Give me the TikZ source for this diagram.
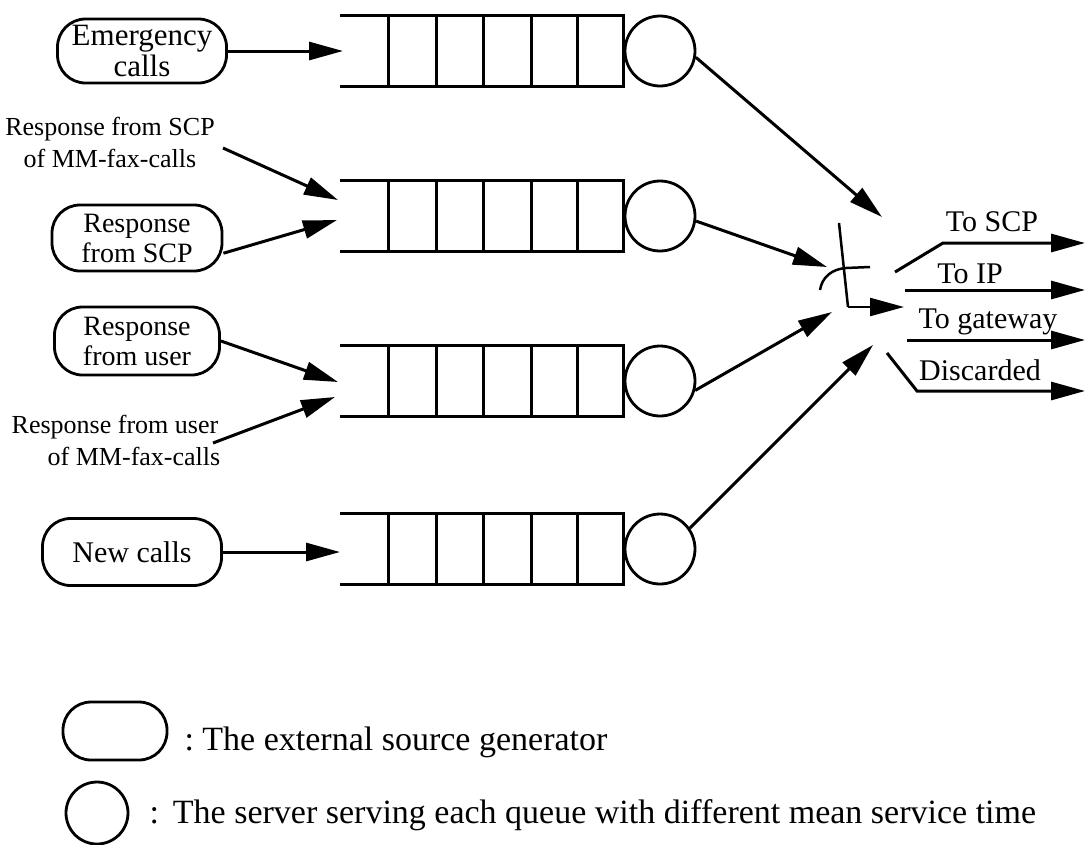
\documentclass[tikz,border=0pt]{standalone}
\usepackage{fontspec}
\setmainfont{Liberation Serif}
\usetikzlibrary{arrows.meta}
\begin{document}
\begin{tikzpicture}[x=1pt,y=-1pt,
  line width=3pt,
  src/.style={draw, rounded corners=28pt, align=center, inner sep=0pt, line width=2.8pt},
  srv/.style={draw, circle, inner sep=0pt, line width=2.8pt},
  arr/.style={-{Triangle[length=34pt,width=18pt]}, line width=3pt},
  lbl/.style={align=center, inner sep=0pt},
  fs/.style={font=\fontsize{#1}{#1}\selectfont},
]
\useasboundingbox (0,0) rectangle (1086,844);

% four queues, each with its server
\foreach \y/\n in {51/1,216/2,381/3,549/4}{
  \draw (340,\y-35.5) -- (623,\y-35.5) -- (623,\y+35.5) -- (340,\y+35.5);
  \foreach \x in {388,436,483,531,577} \draw (\x,\y-35.5) -- (\x,\y+35.5);
  \node[srv, minimum size=70pt] (s\n) at (660,\y) {};
}

% queue entry points
\coordinate (q1in) at (343,51);
\coordinate (q2a) at (338,200);
\coordinate (q2b) at (337,220);
\coordinate (q3a) at (338,382);
\coordinate (q3b) at (335,397);
\coordinate (q4in) at (340,552);

% external sources
\node[src, minimum width=169pt, minimum height=64pt, fs=31] (emg) at (142,51) {Emergency\\[0pt]calls};
\node[src, minimum width=170pt, minimum height=66pt, fs=28] (rscp) at (137,238) {Response\\[2pt]from SCP};
\node[src, minimum width=165pt, minimum height=68pt, fs=28] (rusr) at (137,341) {Response\\[2pt]from user};
\node[src, minimum width=179pt, minimum height=67pt, fs=30] (newc) at (132,552) {New calls};

% inputs given as plain labels
\node[lbl, fs=26] (lscp) at (110,142) {Response from SCP\\[6pt]of MM-fax-calls};
\node[lbl, fs=26] (lusr) at (115,440) {Response from user\\[6pt]\hspace*{38pt}of MM-fax-calls};
\coordinate (lscpo) at (223,148);
\coordinate (lusro) at (213,443);

\draw[arr] (emg.east) -- (q1in);
\draw[arr] (lscpo) -- (q2a);
\draw[arr] (rscp.-10) -- (q2b);
\draw[arr] (rusr.east) -- (q3a);
\draw[arr] (lusro) -- (q3b);
\draw[arr] (newc.east) -- (q4in);

% servers feed the router
\coordinate (r1) at (882,217);
\coordinate (r2) at (827,267);
\coordinate (r3) at (832,312);
\coordinate (r4) at (873,345);
\draw[arr] (s1.-10) -- (r1);
\draw[arr] (s2.-8) -- (r2);
\draw[arr] (s3.-15) -- (r3);
\draw[arr] (s4.35) -- (r4);

% router symbol
\coordinate (sw0) at (839,223);
\coordinate (sw1) at (848,307);
\coordinate (sw2) at (904,307);
\draw[line width=2.5pt] (sw0) -- (sw1);
\draw[arr, line width=2.5pt] (sw1) -- (sw2);
\draw[line width=2.5pt] (820,290) .. controls (822,277) and (832,269) .. (846,268) -- (870,267);

% outputs
\coordinate (o1a) at (895,272); \coordinate (o1b) at (943,243); \coordinate (o1c) at (1085,243);
\coordinate (o2a) at (905,290); \coordinate (o2c) at (1085,290);
\coordinate (o3a) at (907,340); \coordinate (o3c) at (1085,340);
\coordinate (o4a) at (887,353); \coordinate (o4b) at (917,391); \coordinate (o4c) at (1085,391);
\draw[arr] (o1a) -- (o1b) -- (o1c);
\draw[arr] (o2a) -- (o2c);
\draw[arr] (o3a) -- (o3c);
\draw[arr] (o4a) -- (o4b) -- (o4c);
\node[lbl, fs=30] (t1) at (992,222) {To SCP};
\node[lbl, fs=30] (t2) at (970,274) {To IP};
\node[lbl, fs=30] (t3) at (988,322) {To gateway};
\node[lbl, fs=30] (t4) at (980,370) {Discarded};

% legend
\node[src, minimum width=104pt, minimum height=58pt, rounded corners=28pt] (lg1) at (115,731) {};
\node[lbl, fs=34, anchor=west] (lt1) at (183,742) {:\ The external source generator};
\node[srv, minimum size=62pt] (lg2) at (97,813) {};
\node[lbl, fs=34, anchor=west] (lt2) at (148,815) {:\hspace{14pt}The server serving each queue with different mean service time};
\end{tikzpicture}
\end{document}
